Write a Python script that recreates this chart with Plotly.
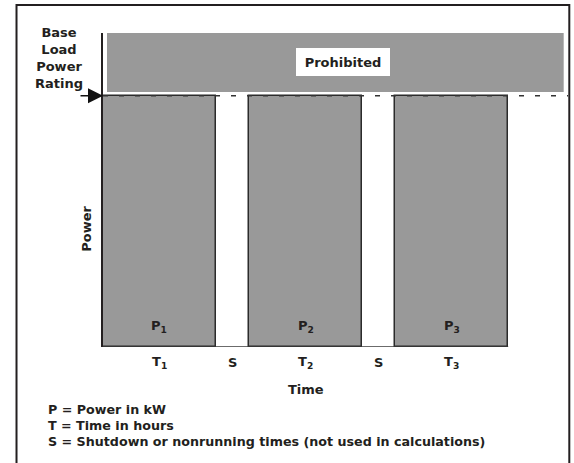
import numpy as np
import plotly.graph_objects as go

# ---- data ----
segment_labels = ["T<sub>1</sub>", "S", "T<sub>2</sub>", "S", "T<sub>3</sub>"]
segment_durations = [3.4, 1.0, 3.4, 1.0, 3.4]
segment_running = [True, False, True, False, True]
power_labels = ["P<sub>1</sub>", "P<sub>2</sub>", "P<sub>3</sub>"]
power_values = [1.0, 1.0, 1.0]
base_load_rating = 1.0
prohibited_x = [0.12, 13.87]
prohibited_y = [1.015, 1.25]
legend_lines = [
    "P = Power in kW",
    "T = Time in hours",
    "S = Shutdown or nonrunning times (not used in calculations)",
]
x_range = [0, 14]
y_range = [0, 1.25]

# ---- derived ----
starts = np.concatenate([[0], np.cumsum(segment_durations)[:-1]])
centers = starts + np.array(segment_durations) / 2
total_time = float(np.sum(segment_durations))
run_centers = [c for c, r in zip(centers, segment_running) if r]
run_widths = [d for d, r in zip(segment_durations, segment_running) if r]

INK = "#231f20"
GRAY = "#999999"
FONT = dict(family="DejaVu Sans", size=13, color=INK, weight="bold")
LEGEND_FONT = dict(FONT, size=12.7)

fig = go.Figure()

fig.add_trace(go.Bar(
    x=run_centers, y=power_values, width=run_widths,
    marker=dict(color=GRAY, line=dict(color="#2b2b2b", width=1.5)),
    hoverinfo="skip", showlegend=False,
))

# bottom line along the time span
fig.add_trace(go.Scatter(
    x=[0, total_time], y=[0, 0], mode="lines",
    line=dict(color="#3a3a3a", width=1.5),
    hoverinfo="skip", showlegend=False,
))

# base load rating dashed line
fig.add_trace(go.Scatter(
    x=x_range, y=[base_load_rating, base_load_rating], mode="lines",
    line=dict(color="#333333", width=1.5, dash="5px,11px"),
    hoverinfo="skip", showlegend=False,
))

shapes = [
    dict(type="rect", xref="x", yref="y",
         x0=prohibited_x[0], x1=prohibited_x[1],
         y0=prohibited_y[0], y1=prohibited_y[1],
         fillcolor=GRAY, line=dict(width=0), layer="below"),
    dict(type="rect", xref="paper", yref="paper",
         x0=-0.186, x1=1.0028, y0=-0.5, y1=1.089,
         line=dict(color=INK, width=2), fillcolor="rgba(0,0,0,0)"),
]

def xp(xd):
    return (xd - x_range[0]) / (x_range[1] - x_range[0])

def yp(yd):
    return (yd - y_range[0]) / (y_range[1] - y_range[0])

annotations = []
# arrow to base load rating
annotations.append(dict(
    x=0, y=base_load_rating, xref="x", yref="y", ax=-24, ay=0,
    text="", showarrow=True, arrowhead=2, arrowsize=2, arrowwidth=1.5,
    arrowcolor="#111111", standoff=0,
))
annotations.append(dict(
    x=xp(-1.31), y=yp(1.15), xref="paper", yref="paper",
    text="Base<br>Load<br>Power<br>Rating", showarrow=False,
    font=FONT, align="center", xanchor="center", yanchor="middle",
))
annotations.append(dict(
    x=xp(-0.49), y=yp(0.47), xref="paper", yref="paper", text="Power",
    textangle=-90, showarrow=False, font=FONT,
    xanchor="center", yanchor="middle",
))
annotations.append(dict(
    x=7.226, y=1.135, xref="x", yref="y", text="Prohibited",
    showarrow=False, font=FONT, bgcolor="white", width=94, height=28,
    borderpad=0, borderwidth=0, xanchor="center", yanchor="middle",
))
for xc, lab in zip(run_centers, power_labels):
    annotations.append(dict(
        x=xc, y=0.082, xref="x", yref="y", text=lab,
        showarrow=False, font=FONT, xanchor="center", yanchor="middle",
    ))
for xc, lab in zip(centers, segment_labels):
    annotations.append(dict(
        x=xp(xc), y=yp(-0.062), xref="paper", yref="paper", text=lab,
        showarrow=False, font=FONT, xanchor="center", yanchor="middle",
    ))
annotations.append(dict(
    x=xp(total_time / 2), y=yp(-0.17), xref="paper", yref="paper",
    text="Time", showarrow=False, font=FONT,
    xanchor="center", yanchor="middle",
))
for i, line in enumerate(legend_lines):
    annotations.append(dict(
        x=xp(-1.731), y=yp(-0.25 - i * 0.0625), xref="paper", yref="paper",
        text=line, showarrow=False, font=LEGEND_FONT, xanchor="left",
        yanchor="middle", align="left",
    ))

fig.update_layout(
    width=574, height=463,
    margin=dict(l=103, r=6, t=33, b=116, pad=0),
    paper_bgcolor="white", plot_bgcolor="white",
    xaxis=dict(range=x_range, showgrid=False, zeroline=False, showline=False,
               showticklabels=False, ticks="", fixedrange=True),
    yaxis=dict(range=y_range, showgrid=False, zeroline=False, showline=True,
               linecolor=INK, linewidth=1.5, showticklabels=False, ticks="",
               fixedrange=True),
    shapes=shapes, annotations=annotations,
    bargap=0, hovermode=False, showlegend=False,
)

fig.write_html(
    "out.html",
    config=dict(displayModeBar=False),
    post_script="document.body.style.margin='0px';",
)
